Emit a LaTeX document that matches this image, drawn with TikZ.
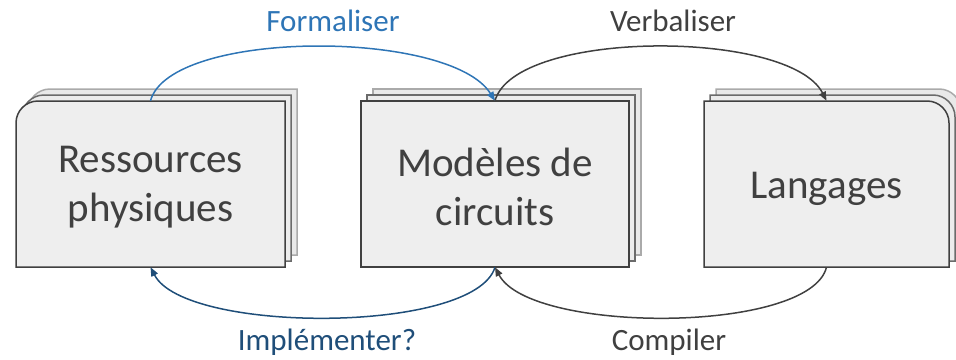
\documentclass[tikz,border=0pt]{standalone}
\usepackage{fontspec}
\setmainfont{Carlito}
\usetikzlibrary{arrows.meta}
\definecolor{txt}{HTML}{404040}
\definecolor{formblue}{HTML}{2E75B6}
\definecolor{impblue}{HTML}{1F4E79}
\definecolor{layerA}{HTML}{404040}
\definecolor{layerB}{HTML}{6B6B6B}
\definecolor{layerC}{HTML}{AAAAAA}
\definecolor{fillA}{HTML}{EEEEEE}
\definecolor{fillB}{HTML}{ECECEC}
\definecolor{fillC}{HTML}{E9E9E9}
\begin{document}
\begin{tikzpicture}[x=1pt,y=-1pt,
  boxnode/.style={minimum width=269pt,minimum height=166pt,inner sep=0pt},
  boxtext/.style={inner sep=0pt,align=center,
    text=txt,font=\fontsize{41}{49}\selectfont},
  lbl/.style={anchor=base,inner sep=0pt,font=\fontsize{31}{36}\selectfont},
  conn/.style={line width=1.5pt,-{Triangle[length=9pt,width=7pt]}},
  layer/.style={line width=1.5pt}]
\useasboundingbox (0,0) rectangle (956,359);
\foreach \d/\lc/\fc in {12/layerC/fillC,6/layerB/fillB,0/layerA/fillA}{
  \draw[layer,draw=\lc,fill=\fc] (16+\d,267-\d) -- (16+\d,123-\d)
     .. controls (16+\d,110.85-\d) and (25.85+\d,101-\d) .. (38+\d,101-\d)
     -- (285+\d,101-\d) -- (285+\d,267-\d) -- cycle;
  \draw[layer,draw=\lc,fill=\fc] (361+\d,101-\d) rectangle (629+\d,267-\d);
  \draw[layer,draw=\lc,fill=\fc] (704+\d,267-\d) -- (704+\d,101-\d) -- (927+\d,101-\d)
     .. controls (939.15+\d,101-\d) and (949+\d,110.85-\d) .. (949+\d,123-\d)
     -- (949+\d,267-\d) -- cycle;
}
\node[boxnode] (res) at (150.5,184) {};
\node[boxnode,minimum width=268pt] (mod) at (495,184) {};
\node[boxnode,minimum width=245pt] (lang) at (826.5,184) {};
\node[boxtext] (rest) at (150.5,187) {Ressources\\physiques};
\node[boxtext] (modt) at (495,187) {Modèles de\\circuits};
\node[boxtext] (langt) at (826.5,189) {Langages};

\draw[conn,formblue] (res.north) .. controls (170,29) and (450,29) .. (mod.north);
\draw[conn,txt] (mod.north) .. controls (515,29) and (790,29) .. (lang.north);
\draw[conn,impblue] (mod.south) .. controls (475,334) and (185,334) .. (res.south);
\draw[conn,txt] (lang.south) .. controls (810,334) and (530,334) .. (mod.south);

\node[lbl,text=formblue] (lf) at (333,31) {Formaliser};
\node[lbl,text=txt] (lv) at (673,31) {Verbaliser};
\node[lbl,text=impblue] (li) at (327,350) {Implémenter?};
\node[lbl,text=txt] (lc) at (669,350) {Compiler};
\end{tikzpicture}
\end{document}
